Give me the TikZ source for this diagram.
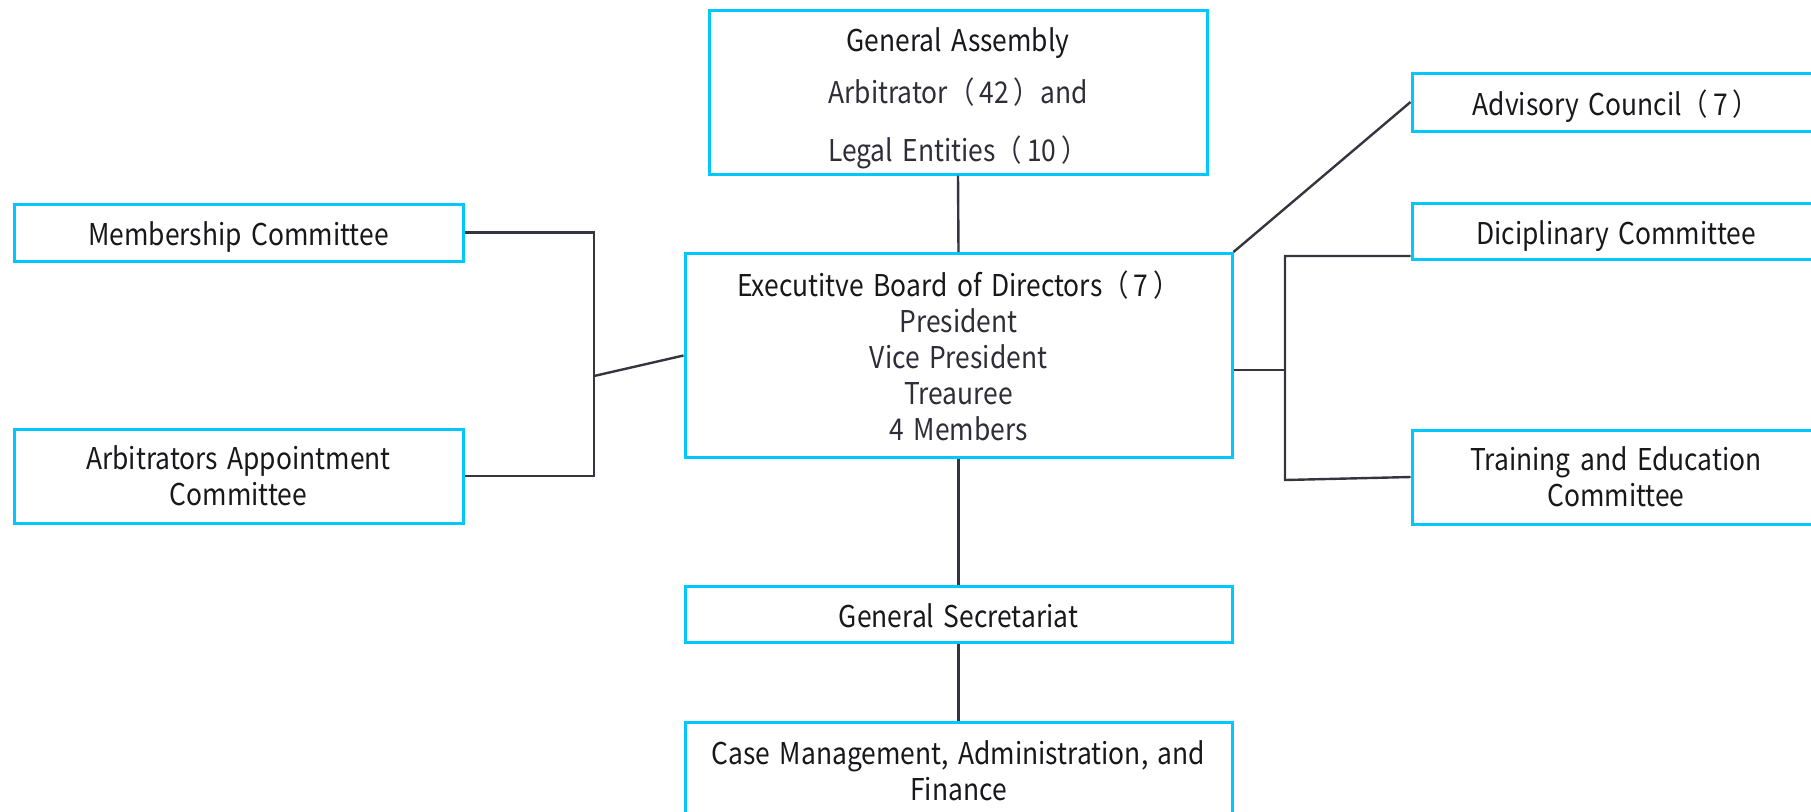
\documentclass[tikz,border=0pt]{standalone}
\usepackage{fontspec}
\setmainfont[FakeStretch=0.88,WordSpace=1.6]{Noto Sans CJK JP}
\definecolor{boxc}{HTML}{00C8FF}
\definecolor{linec}{HTML}{34353F}
\definecolor{txta}{HTML}{18181C}
\definecolor{txtb}{HTML}{2E2E38}
\newcommand{\pn}[1]{（\hspace{2.5pt}#1\hspace{2.5pt}）}
\begin{document}
\begin{tikzpicture}[x=0.5pt,y=-0.5pt,
  orgbox/.style={draw=boxc,line width=1.5pt,fill=white,align=center,inner sep=0pt,
    font=\fontsize{15}{18}\selectfont,text=txta},
  oneline/.style={text height=14pt,text depth=1pt},
  conn/.style={draw=linec,line width=1.2pt}]
\useasboundingbox (0,0) rectangle (1811,811);
\clip (0,0) rectangle (1811,811);
% nodes
\node[orgbox,minimum width=249pt,minimum height=82pt] (ga) at (958,92)
  {\rule{0pt}{18pt}General Assembly\\[8pt]\textcolor{txtb}{Arbitrator\pn{42}and}\\[11pt]\textcolor{txtb}{Legal Entities\pn{10}}};
\node[orgbox,minimum width=273.5pt,minimum height=102pt] (exec) at (958.5,355.5)
  {Executitve Board of Directors\pn{7}\\\textcolor{txtb}{President}\\\textcolor{txtb}{Vice President}\\\textcolor{txtb}{Treauree}\\\textcolor{txtb}{4 Members}};
\node[orgbox,oneline,minimum width=224.5pt,minimum height=28.5pt] (memb) at (238.5,232.5) {Membership Committee};
\node[orgbox,minimum width=224.5pt,minimum height=47pt] (arb) at (238.5,476) {Arbitrators Appointment\\Committee};
\node[orgbox,oneline,minimum width=204pt,minimum height=29pt] (adv) at (1616,102) {Advisory Council\pn{7}};
\node[orgbox,oneline,minimum width=204pt,minimum height=28pt] (disc) at (1616,231) {Diciplinary Committee};
\node[orgbox,minimum width=204pt,minimum height=47pt] (train) at (1616,477) {Training and Education\\Committee};
\node[orgbox,oneline,minimum width=273.5pt,minimum height=28pt] (gs) at (958.5,614) {General Secretariat};
\node[orgbox,minimum width=273.5pt,minimum height=49pt] (case) at (958.5,771) {Case Management, Administration, and\\Finance};
% bus coordinates
\coordinate (lt) at (594,232.5);
\coordinate (lb) at (594,476);
\coordinate (lj) at (594,376);
\coordinate (rt) at (1285,256);
\coordinate (rb) at (1285,480);
\coordinate (rj) at (1285,370);
% connectors
\draw[conn] (ga.south) -- (exec.north);
\draw[conn] (exec.south) -- (gs.north);
\draw[conn] (gs.south) -- (case.north);
\draw[conn] (memb.east) -- (lt) -- (lb) -- (arb.east);
\draw[conn] (lj) -- (exec.west);
\draw[conn] (exec.east |- rj) -- (rj);
\draw[conn] (disc.west |- rt) -- (rt) -- (rb) -- (train.west);
\draw[conn] (exec.north east) -- (adv.west);
\end{tikzpicture}
\end{document}
